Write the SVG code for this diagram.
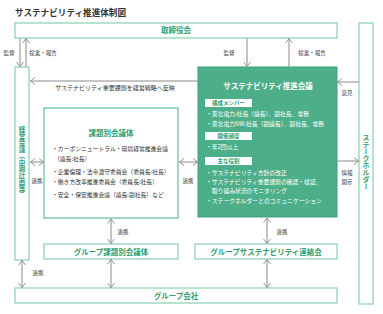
<svg xmlns="http://www.w3.org/2000/svg" width="383" height="314" viewBox="0 0 383 314">
<style>
text{font-family:"Noto Sans CJK JP","Liberation Sans",sans-serif}
.box{fill:#fff;stroke:#8fd4b5;stroke-width:1.3}
.gbox{fill:#4daf8a;stroke:#3c9f78;stroke-width:1}
.ttl{font-size:7.5px;font-weight:bold;fill:#2f9e6f;text-anchor:middle}
.vt{font-weight:bold;fill:#2f9e6f;writing-mode:vertical-rl;text-anchor:middle}
.lbl{font-size:5.5px;fill:#333;text-anchor:middle}
.body{font-size:5.8px;fill:#333}
.wbody{font-size:5.8px;fill:#fff}
.tag{fill:#fff}
.tagt{font-size:5.5px;font-weight:bold;fill:#2f9e6f;text-anchor:middle}
.ln{stroke:#8a8a8a;stroke-width:1;fill:none}
</style>
<defs>
<marker id="ah" viewBox="0 0 6 8" refX="5.5" refY="4" markerWidth="6" markerHeight="8" markerUnits="userSpaceOnUse" orient="auto-start-reverse">
<path d="M1,0.5 L5.5,4 L1,7.5" fill="none" stroke="#8a8a8a" stroke-width="0.9"/>
</marker>
</defs>
<rect width="383" height="314" fill="#fff"/>
<text x="15" y="15.5" style="font-size:8.6px;font-weight:bold;fill:#333">サステナビリティ推進体制図</text>

<g id="board">
<rect class="box" x="15" y="23" width="322" height="15"/>
<text class="ttl" x="176" y="33.3">取締役会</text>
</g>
<g id="mgmt">
<rect class="box" x="15" y="67" width="14" height="193"/>
<text class="vt" x="22" y="162.5" style="font-size:6.5px">経営会議（中期計画等）</text>
</g>
<g id="stakeholder">
<rect class="box" x="359" y="23" width="14" height="281"/>
<text class="vt" x="366" y="161.5" style="font-size:7px">ステークホルダー</text>
</g>
<g id="issue-council">
<rect class="box" x="44" y="108" width="134" height="110" style="stroke:#6cc79f"/>
<text class="ttl" x="111" y="135.5">課題別会議体</text>
<text class="body" x="52" y="151">・カーボンニュートラル・環境経営推進会議</text>
<text class="body" x="54" y="160.5">（議長:社長）</text>
<text class="body" x="52" y="173.5">・企業倫理・法令遵守委員会（委員長:社長）</text>
<text class="body" x="52" y="184">・働き方改革推進委員会（委員長:社長）</text>
<text class="body" x="52" y="196.5">・安全・保安推進会議（議長:副社長）など</text>
</g>
<g id="sus-council">
<rect class="gbox" x="198" y="67" width="139" height="150"/>
<text x="268" y="89" style="font-size:7.5px;font-weight:bold;fill:#fff;text-anchor:middle">サステナビリティ推進会議</text>
<rect class="tag" x="205" y="99" width="47" height="8"/>
<text class="tagt" x="228.5" y="105.2">構成メンバー</text>
<text class="wbody" x="206" y="116">・東北電力:社長（議長）、副社長、常務</text>
<text class="wbody" x="206" y="125.5">・東北電力NW:社長（副議長）、副社長、常務</text>
<rect class="tag" x="205" y="132" width="47" height="8"/>
<text class="tagt" x="228.5" y="138.2">開催頻度</text>
<text class="wbody" x="206" y="149">・年2回以上</text>
<rect class="tag" x="205" y="157" width="47" height="8"/>
<text class="tagt" x="228.5" y="163.2">主な役割</text>
<text class="wbody" x="206" y="175">・サステナビリティ方針の改正</text>
<text class="wbody" x="206" y="184">・サステナビリティ重要課題の確認・検証、</text>
<text class="wbody" x="206" y="193">　取り組み状況のモニタリング</text>
<text class="wbody" x="206" y="203">・ステークホルダーとのコミュニケーション</text>
</g>
<g id="group-issue">
<rect class="box" x="44" y="244" width="134" height="15"/>
<text class="ttl" x="111" y="254.5">グループ課題別会議体</text>
</g>
<g id="group-sus">
<rect class="box" x="195" y="244" width="142" height="15"/>
<text class="ttl" x="266" y="254.5">グループサステナビリティ連絡会</text>
</g>
<g id="group-co">
<rect class="box" x="15" y="288" width="322" height="15"/>
<text class="ttl" x="176" y="298.5">グループ会社</text>
</g>

<g id="connectors">
<line class="ln" x1="20" y1="38.5" x2="20" y2="66.5" marker-end="url(#ah)"/>
<line class="ln" x1="26" y1="66.5" x2="26" y2="38.5" marker-end="url(#ah)"/>
<text class="lbl" x="9" y="54.5">監督</text>
<text class="lbl" x="43" y="54.5">提案・報告</text>
<line class="ln" x1="247" y1="38.5" x2="247" y2="66.5" marker-end="url(#ah)"/>
<line class="ln" x1="289" y1="66.5" x2="289" y2="38.5" marker-end="url(#ah)"/>
<text class="lbl" x="229" y="54.5">監督</text>
<text class="lbl" x="312" y="54.5">提案・報告</text>
<line class="ln" x1="198" y1="81" x2="30.5" y2="81" marker-end="url(#ah)"/>
<text x="115" y="90" style="font-size:6px;fill:#333;text-anchor:middle">サステナビリティ重要課題を経営戦略へ反映</text>
<line class="ln" x1="359" y1="82" x2="337.5" y2="82" marker-end="url(#ah)"/>
<text class="lbl" x="347" y="95">意見</text>
<line class="ln" x1="337" y1="161" x2="358.5" y2="161" marker-end="url(#ah)"/>
<text class="lbl" x="347" y="175">情報</text>
<text class="lbl" x="347" y="183.5">開示</text>
<line class="ln" x1="30.5" y1="162" x2="43.5" y2="162" marker-start="url(#ah)" marker-end="url(#ah)"/>
<text class="lbl" x="37" y="183">連携</text>
<line class="ln" x1="179.5" y1="162" x2="197.5" y2="162" marker-start="url(#ah)" marker-end="url(#ah)"/>
<text class="lbl" x="188" y="183">連携</text>
<line class="ln" x1="111" y1="219" x2="111" y2="243.5" marker-start="url(#ah)" marker-end="url(#ah)"/>
<text class="lbl" x="123" y="234">連携</text>
<line class="ln" x1="111" y1="259.5" x2="111" y2="287.5" marker-start="url(#ah)" marker-end="url(#ah)"/>
<line class="ln" x1="267" y1="218" x2="267" y2="243.5" marker-start="url(#ah)" marker-end="url(#ah)"/>
<text class="lbl" x="282" y="234">連携</text>
<line class="ln" x1="267" y1="259.5" x2="267" y2="287.5" marker-start="url(#ah)" marker-end="url(#ah)"/>
<line class="ln" x1="22" y1="260.5" x2="22" y2="287.5" marker-start="url(#ah)" marker-end="url(#ah)"/>
<text class="lbl" x="38" y="275">連携</text>
</g>
</svg>
